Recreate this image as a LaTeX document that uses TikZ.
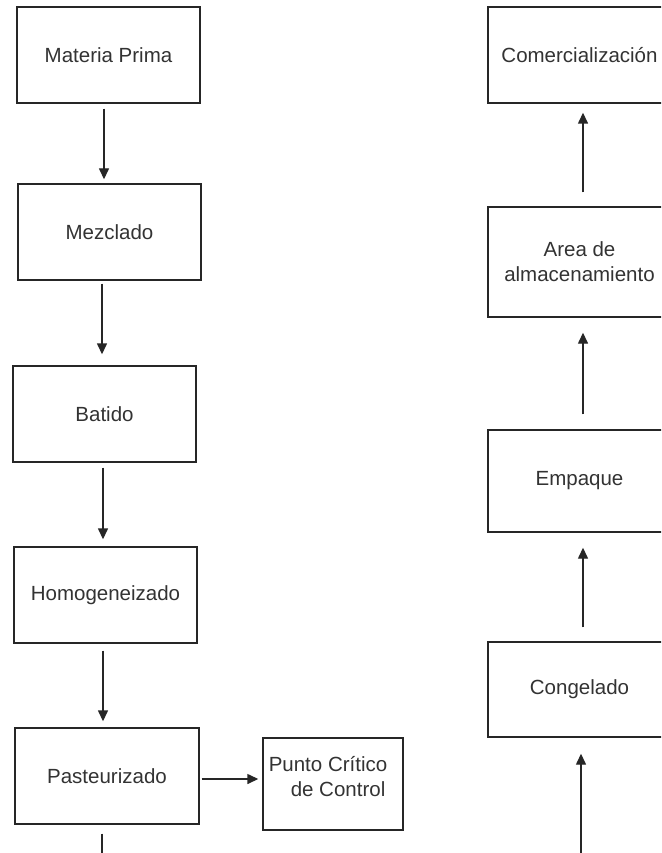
\documentclass[tikz,border=0pt]{standalone}
\usepackage{fontspec}
\setmainfont{Liberation Sans}
\usetikzlibrary{arrows.meta}
\begin{document}
\begin{tikzpicture}[x=1pt,y=-1pt,
  box/.style={draw=black!85, line width=1.4pt, minimum width=183pt, minimum height=96pt,
              inner sep=0pt, font=\fontsize{20.5}{25}\selectfont, text=black!80, align=center},
  txt/.style={inner sep=0pt, font=\fontsize{20.5}{25}\selectfont, text=black!80, align=left},
  arr/.style={draw=black!85, line width=1.4pt, -{Triangle[width=10pt,length=11pt]}},
  ln/.style={draw=black!85, line width=1.4pt}]
\useasboundingbox (0,0) rectangle (661,853);
\clip (0,0) rectangle (661,853);
\fill[white] (0,0) rectangle (661,853);

% left column
\node[box] (mp) at (108.5,55) {Materia Prima};
\node[box] (mz) at (109.5,232) {Mezclado};
\node[box] (bt) at (104.5,414) {Batido};
\node[box] (hm) at (105.5,595) {Homogeneizado};
\node[box, minimum width=184pt] (ps) at (107,776) {Pasteurizado};
\node[box, minimum width=140pt, minimum height=92pt] (pc) at (333,784) {};
\node[txt] (pct) at (328,777) {Punto Crítico\\\hspace*{22pt}de Control};
\coordinate (lbot) at (102,870);

% right column
\node[box] (co) at (579.5,55) {Comercialización};
\node[box, minimum height=110pt] (al) at (579.5,262) {Area de\\almacenamiento};
\node[box, minimum height=102pt] (em) at (579.5,481) {Empaque};
\node[box, minimum height=95pt] (cg) at (579.5,689.5) {Congelado};
\coordinate (rbot) at (581,870);

% left connectors
\draw[arr, shorten <=5pt, shorten >=4pt] ([xshift=-4.5pt]mp.south) -- ([xshift=-5.5pt]mz.north);
\draw[arr, shorten <=3pt, shorten >=11pt] ([xshift=-7.5pt]mz.south) -- ([xshift=-2.5pt]bt.north);
\draw[arr, shorten <=5pt, shorten >=7pt] ([xshift=-1.5pt]bt.south) -- ([xshift=-2.5pt]hm.north);
\draw[arr, shorten <=7pt, shorten >=6pt] ([xshift=-2.5pt]hm.south) -- ([xshift=-4pt]ps.north);
\draw[ln, shorten <=9pt] ([xshift=-5pt]ps.south) -- (lbot);
\draw[arr, shorten <=2pt, shorten >=4pt] (ps.east |- 0,779) -- (pc.west |- 0,779);

% right connectors
\draw[arr, shorten <=14pt, shorten >=9pt] ([xshift=3.5pt]al.north) -- ([xshift=3.5pt]co.south);
\draw[arr, shorten <=15pt, shorten >=15pt] ([xshift=3.5pt]em.north) -- ([xshift=3.5pt]al.south);
\draw[arr, shorten <=14pt, shorten >=15pt] ([xshift=3.5pt]cg.north) -- ([xshift=3.5pt]em.south);
\draw[arr, shorten >=16pt] (rbot) -- ([xshift=1.5pt]cg.south);
\end{tikzpicture}
\end{document}
